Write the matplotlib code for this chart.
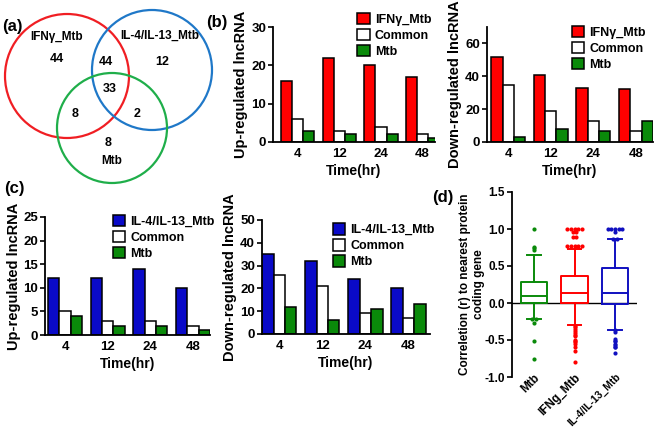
import matplotlib
matplotlib.use('Agg')
import matplotlib.pyplot as plt
from matplotlib.patches import Circle
import numpy as np

plt.rcParams['font.family'] = ['Liberation Sans', 'DejaVu Sans']
plt.rcParams['font.weight'] = 'bold'
plt.rcParams['axes.labelweight'] = 'bold'
plt.rcParams['axes.linewidth'] = 1.3

# ---- data ----
times = ['4', '12', '24', '48']
series = ['Common', 'Mtb']

up_ifn = [16, 22, 20, 17]
up_ifn_common = [6, 3, 4, 2]
up_ifn_mtb = [3, 2, 2, 1]

down_ifn = [52, 41, 33, 32]
down_ifn_common = [35, 19, 13, 7]
down_ifn_mtb = [3, 8, 7, 13]

up_il = [12, 12, 14, 10]
up_il_common = [5, 3, 3, 2]
up_il_mtb = [4, 2, 2, 1]

down_il = [35, 32, 24, 20]
down_il_common = [26, 21, 9, 7]
down_il_mtb = [12, 6, 11, 13]

venn_labels = ['IFNγ_Mtb', 'IL-4/IL-13_Mtb', 'Mtb']
venn_counts = {'100': 44, '010': 12, '001': 8, '110': 44, '101': 8, '011': 2, '111': 33}

box_names = ['Mtb', 'IFNg_Mtb', 'IL-4/IL-13_Mtb']
box_q1 = [0.0, 0.0, -0.01]
box_med = [0.09, 0.13, 0.13]
box_q3 = [0.29, 0.37, 0.47]
box_lo = [-0.21, -0.30, -0.37]
box_hi = [0.65, 0.73, 0.86]
fliers_mtb = [1.0, 0.76, 0.75, 0.72, -0.21, -0.21, -0.27, -0.52, -0.75]
fliers_ifn = [1.0, 1.0, 1.0, 1.0, 1.0, 0.96, 0.96, 0.89, 0.89, 0.77, 0.77, 0.77, 0.77, 0.77,
              -0.31, -0.32, -0.35, -0.38, -0.40, -0.43, -0.45, -0.50, -0.52, -0.53,
              -0.55, -0.59, -0.65, -0.80]
fliers_il = [1.0, 1.0, 1.0, 1.0, 1.0, 0.96, 0.86, 0.86,
             -0.37, -0.39, -0.48, -0.51, -0.52, -0.55, -0.57, -0.59, -0.60, -0.67]

RED = '#ff0000'
BLUE = '#0a0ac8'
GREEN = '#0a8a0a'

W, H = 660, 432
fig = plt.figure(figsize=(6.6, 4.32), dpi=100)


def px_axes(l, t, r, b):
    return fig.add_axes([l / W, 1 - b / H, (r - l) / W, (b - t) / H])


def jitter(vals, step):
    # spread points that share the same value sideways, like the original
    offs = []
    seen = {}
    for v in vals:
        k = round(v, 2)
        n = seen.get(k, 0)
        seen[k] = n + 1
        offs.append(n)
    out = []
    for v, n in zip(vals, offs):
        tot = seen[round(v, 2)]
        out.append((n - (tot - 1) / 2) * step)
    return np.array(out)


def bar_panel(ax, main, common, mtb, color, label, ylabel, ymax, yticks, xlim, legpos):
    x = np.arange(len(times))
    w = 0.265
    ax.bar(x - w, main, w, color=color, edgecolor='black', linewidth=1.1, label=label)
    ax.bar(x, common, w, color='white', edgecolor='black', linewidth=1.1, label=series[0])
    ax.bar(x + w, mtb, w, color=GREEN, edgecolor='black', linewidth=1.1, label=series[1])
    ax.set_xlim(*xlim)
    ax.set_ylim(0, ymax)
    ax.set_yticks(yticks)
    ax.set_xticks(x)
    ax.set_xticklabels(times)
    ax.spines['top'].set_visible(False)
    ax.spines['right'].set_visible(False)
    ax.tick_params(axis='x', length=0, labelsize=9.5, pad=4)
    ax.tick_params(axis='y', length=3.5, width=1.2, labelsize=9.5, pad=1.5)
    ax.set_xlabel('Time(hr)', fontsize=10, labelpad=3)
    ax.set_ylabel(ylabel, fontsize=10.5, labelpad=2)
    ax.legend(loc='upper left', bbox_to_anchor=legpos, frameon=False, fontsize=9,
              handlelength=1.0, handleheight=1.0, handletextpad=0.4,
              labelspacing=0.25, borderpad=0, borderaxespad=0)


# ---- (a) Venn ----
ax = px_axes(0, 0, 230, 200)
ax.set_xlim(0, 230)
ax.set_ylim(200, 0)
ax.axis('off')
ax.add_patch(Circle((67, 76), 62, fill=False, color='#f01e23', lw=1.6))
ax.add_patch(Circle((152, 70), 60, fill=False, color='#1f78c8', lw=1.6))
ax.add_patch(Circle((112, 128), 55, fill=False, color='#1fae4a', lw=1.6))
ax.text(57, 37, venn_labels[0], ha='center', va='center', fontsize=8.5)
ax.text(160, 36, venn_labels[1], ha='center', va='center', fontsize=8.5)
ax.text(112, 161, venn_labels[2], ha='center', va='center', fontsize=8.5)
for key, (tx, ty) in {'100': (57, 59), '010': (162, 62), '001': (108, 143),
                      '110': (106, 62), '101': (75, 114), '011': (137, 114),
                      '111': (110, 89)}.items():
    ax.text(tx, ty, str(venn_counts[key]), ha='center', va='center', fontsize=9)

fig.text(2 / W, 1 - 26 / H, '(a)', fontsize=12, va='center', ha='left')
fig.text(206 / W, 1 - 23 / H, '(b)', fontsize=12, va='center', ha='left')
fig.text(4 / W, 1 - 189 / H, '(c)', fontsize=12, va='center', ha='left')
fig.text(432 / W, 1 - 198 / H, '(d)', fontsize=12, va='center', ha='left')

# ---- (b) ----
ax = px_axes(273, 27, 435, 142)
bar_panel(ax, up_ifn, up_ifn_common, up_ifn_mtb, RED, 'IFNγ_Mtb',
          'Up-regulated lncRNA', 30, [0, 10, 20, 30], (-0.6, 3.3), (0.52, 1.12))
ax = px_axes(487, 27, 653, 142)
bar_panel(ax, down_ifn, down_ifn_common, down_ifn_mtb, RED, 'IFNγ_Mtb',
          'Down-regulated lncRNA', 70, [0, 20, 40, 60], (-0.5, 3.4), (0.51, 1.01))

# ---- (c) ----
ax = px_axes(45, 217, 210, 335)
bar_panel(ax, up_il, up_il_common, up_il_mtb, BLUE, 'IL-4/IL-13_Mtb',
          'Up-regulated lncRNA', 25, [0, 5, 10, 15, 20, 25], (-0.47, 3.4), (0.41, 1.02))
ax = px_axes(262, 220, 430, 334)
bar_panel(ax, down_il, down_il_common, down_il_mtb, BLUE, 'IL-4/IL-13_Mtb',
          'Down-regulated lncRNA', 50, [0, 10, 20, 30, 40, 50], (-0.4, 3.5), (0.42, 0.97))

# ---- (d) box plot ----
ax = px_axes(512, 192, 637, 377)
cols = [GREEN, RED, '#1010c0']
allfl = [fliers_mtb, fliers_ifn, fliers_il]
for i in range(3):
    st = [{'med': box_med[i], 'q1': box_q1[i], 'q3': box_q3[i],
           'whislo': box_lo[i], 'whishi': box_hi[i], 'fliers': []}]
    c = cols[i]
    ax.bxp(st, positions=[i + 1], widths=0.66, showfliers=False, patch_artist=False,
           boxprops=dict(color=c, lw=1.4), medianprops=dict(color=c, lw=1.4),
           whiskerprops=dict(color=c, lw=1.4), capprops=dict(color=c, lw=1.4))
    fl = np.array(allfl[i])
    ax.scatter(i + 1 + jitter(fl, 0.09), fl, s=9, color=c, zorder=3, linewidths=0)
ax.axhline(0, color='black', lw=1.0, zorder=0)
ax.set_xlim(0.46, 3.54)
ax.set_ylim(-1.0, 1.5)
ax.set_yticks([-1.0, -0.5, 0.0, 0.5, 1.0, 1.5])
ax.set_yticklabels(['-1.0', '-0.5', '0.0', '0.5', '1.0', '1.5'])
ax.spines['top'].set_visible(False)
ax.spines['right'].set_visible(False)
ax.spines['bottom'].set_visible(False)
ax.tick_params(axis='y', length=3.5, width=1.2, labelsize=8.5, pad=1.5)
ax.tick_params(axis='x', length=0, labelsize=8.5, pad=-4)
ax.set_xticks([1, 2, 3])
ax.set_xticklabels(box_names, rotation=45, ha='right', rotation_mode='anchor')
for t in ax.get_xticklabels():
    t.set_fontsize(7.5 if len(t.get_text()) > 10 else 8.5)
ax.set_ylabel('Correletion (r) to nearest protein\ncoding gene', fontsize=8.5,
              labelpad=0)

fig.savefig('out.png', dpi=100)
